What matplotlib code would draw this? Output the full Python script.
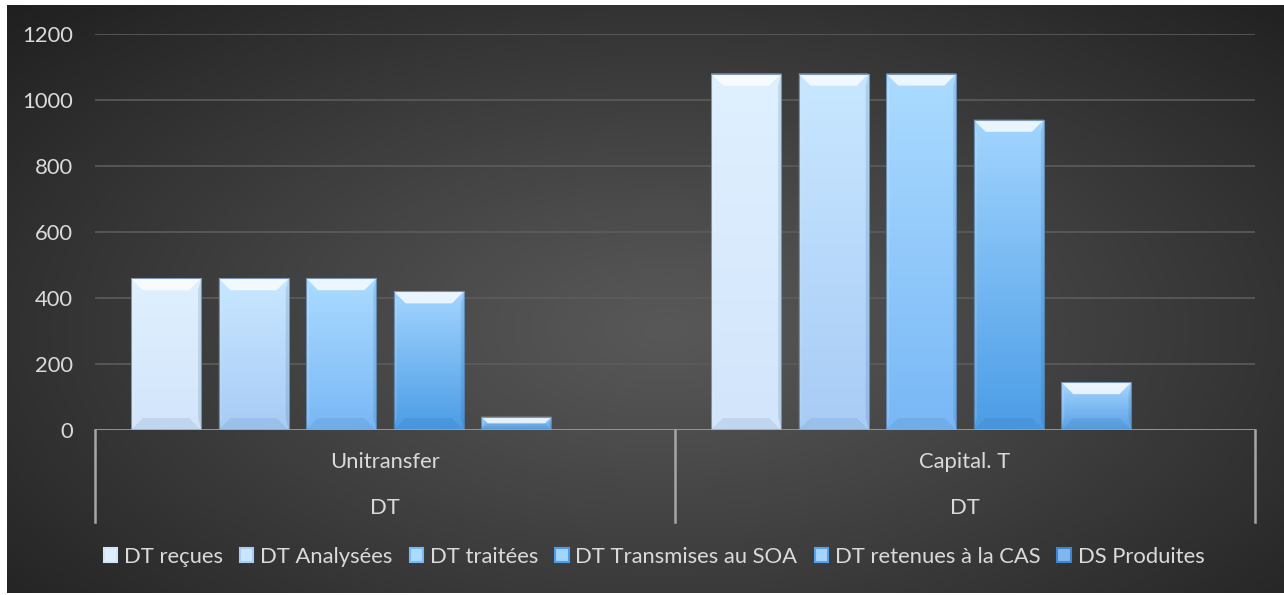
import numpy as np
import matplotlib
matplotlib.use("Agg")
import matplotlib.pyplot as plt
from matplotlib.colors import LinearSegmentedColormap, to_rgb
from matplotlib.patches import Polygon, Rectangle
import matplotlib.transforms as mtransforms

# data
categories = ["Unitransfer", "Capital. T"]
group_label = "DT"
series_names = ["DT reçues", "DT Analysées", "DT traitées",
                "DT Transmises au SOA", "DT retenues à la CAS", "DS Produites"]
values = [
    [460, 1080],   # DT reçues
    [460, 1080],   # DT Analysées
    [460, 1080],   # DT traitées
    [420, 940],    # DT Transmises au SOA
    [40, 145],     # DT retenues à la CAS
    [0, 0],        # DS Produites
]
yticks = [0, 200, 400, 600, 800, 1000, 1200]

# gradient colours per series (top, bottom)
top_colors = ["#dff0ff", "#c8e7ff", "#abdbff", "#a2d5ff", "#a6d5ff", "#7fb8ee"]
bot_colors = ["#d3e5fb", "#a9ccf6", "#79b8f6", "#4c9de6", "#5aa2e6", "#3f85d0"]

TXT = "#dadada"
FONT = "Lato"
FS = 15.8

W, H = 1284, 595
fig = plt.figure(figsize=(W / 100, H / 100), dpi=100, facecolor="white")

# chart background with radial gradient
bg = fig.add_axes([7 / W, 2 / H, (W - 7) / W, (H - 7) / H])
bg.set_axis_off()
yy, xx = np.mgrid[0:300, 0:640]
r = np.sqrt(((xx - 330) / 330.0) ** 2 + ((yy - 165) / 175.0) ** 2) / 1.45
r = np.clip(r, 0, 1)
c0, c1 = np.array(to_rgb("#585858")), np.array(to_rgb("#1c1c1c"))
img = c0[None, None, :] + (c1 - c0)[None, None, :] * r[..., None] ** 1.1
bg.imshow(img, aspect="auto", extent=[0, 1, 0, 1], interpolation="bilinear")
bg.set_xlim(0, 1)
bg.set_ylim(0, 1)

ax = fig.add_axes([95 / W, (H - 430) / H, (1255 - 95) / W, (430 - 34) / H])
ax.patch.set_alpha(0)
ax.set_xlim(-0.5, 1.5)
ax.set_ylim(0, 1200)
ax.set_yticks(yticks)
ax.set_yticklabels([str(t) for t in yticks], fontsize=FS, color=TXT, family=FONT)
ax.tick_params(axis="y", length=0, pad=16)
ax.set_xticks([])
for s in ax.spines.values():
    s.set_visible(False)
ax.grid(axis="y", color="#5c5c5c", lw=1.2)
ax.set_axisbelow(True)

x = np.arange(len(categories))
step, width = 0.151, 0.121
px_per_x = (1255 - 95) / 2.0
px_per_y = (430 - 34) / 1200.0
bev = 12  # bevel size in pixels

for i, name in enumerate(series_names):
    pos = x + (i - 2.5) * step
    bars = ax.bar(pos, values[i], width, color=bot_colors[i], zorder=2,
                  edgecolor="none", label=name)
    cmap = LinearSegmentedColormap.from_list("s%d" % i, [bot_colors[i], top_colors[i]])
    for b in bars:
        bx, bw, bh = b.get_x(), b.get_width(), b.get_height()
        if bh <= 0:
            continue
        im = ax.imshow(np.linspace(0, 1, 64).reshape(-1, 1), cmap=cmap, origin="lower",
                       extent=[bx, bx + bw, 0, bh], aspect="auto", zorder=2.1,
                       interpolation="bilinear")
        im.set_clip_path(b)
        dy_px = min(bev, bh * px_per_y / 2.0)
        dy = dy_px / px_per_y
        dx = dy_px / px_per_x
        # top bevel (highlight)
        ax.add_patch(Polygon([(bx, bh), (bx + bw, bh), (bx + bw - dx, bh - dy), (bx + dx, bh - dy)],
                             closed=True, facecolor="white", alpha=0.78, lw=0, zorder=2.3))
        # bottom bevel (shade)
        bb = min(bev, bh * px_per_y / 2.0) / px_per_y
        ax.add_patch(Polygon([(bx, 0), (bx + bw, 0), (bx + bw - dx, bb), (bx + dx, bb)],
                             closed=True, facecolor="#1f4f80", alpha=0.10, lw=0, zorder=2.3))
        # side bevels
        sdx = 3 / px_per_x
        ax.add_patch(Polygon([(bx, 0), (bx + sdx, bb), (bx + sdx, bh - dy), (bx, bh)],
                             closed=True, facecolor="white", alpha=0.15, lw=0, zorder=2.3))
        ax.add_patch(Polygon([(bx + bw, 0), (bx + bw - sdx, bb), (bx + bw - sdx, bh - dy), (bx + bw, bh)],
                             closed=True, facecolor="#1f4f80", alpha=0.15, lw=0, zorder=2.3))
        ax.add_patch(Rectangle((bx, 0), bw, bh, fill=False, edgecolor="#4d6f94",
                               lw=0.8, alpha=0.7, zorder=2.4))

# category axis (multi-level)
axis_col = "#a6a6a6"
ax.axhline(0, color=axis_col, lw=1.8, zorder=3)
trans = mtransforms.blended_transform_factory(ax.transData, ax.transAxes)
depth = 92 / (430 - 34)
for xb in [-0.5, 0.5, 1.5]:
    ax.plot([xb, xb], [0, -depth], color=axis_col, lw=1.8, transform=trans, clip_on=False)
for xi, cat in zip(x, categories):
    ax.text(xi, -32 / 396, cat, transform=trans, ha="center", va="center",
            fontsize=FS, color=TXT, family=FONT)
    ax.text(xi, -78 / 396, group_label, transform=trans, ha="center", va="center",
            fontsize=FS, color=TXT, family=FONT)

# legend
handles = [Rectangle((0, 0), 1, 1, facecolor=top_colors[i], edgecolor=bot_colors[i], lw=1.5)
           for i in range(len(series_names))]
leg = fig.legend(handles, series_names, loc="center", bbox_to_anchor=(654 / W, (H - 557) / H),
                 ncol=6, frameon=False, handlelength=0.62, handleheight=0.62,
                 handletextpad=0.3, columnspacing=0.78,
                 prop={"family": FONT, "size": FS})
for t in leg.get_texts():
    t.set_color(TXT)

fig.savefig("out.png", dpi=100, facecolor="white")
